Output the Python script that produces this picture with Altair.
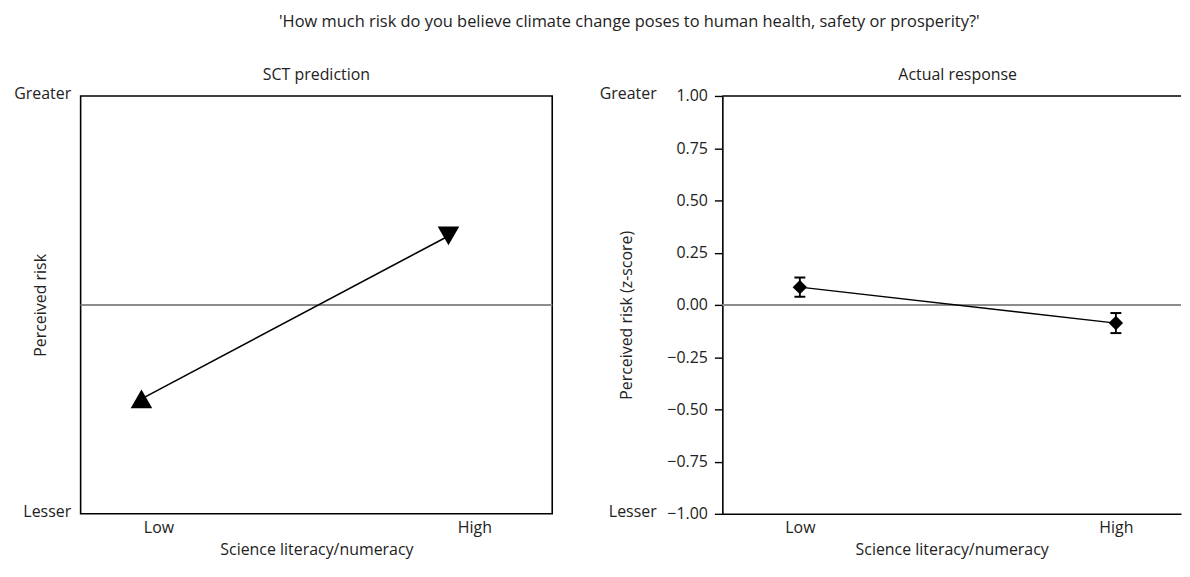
import altair as alt
import pandas as pd

FONT = "Open Sans"
TXT = "#222222"

# ---------------- data ----------------
levels = ["Low", "High"]
# SCT prediction (schematic)
sct_x = [0.129, 0.78]
sct_y = [-0.45, 0.33]
sct_shape = ["triangle-up", "triangle-down"]
# Actual response (z-score) with error bars
act_x = [0.169, 0.858]
act_y = [0.085, -0.087]
act_err = [0.046, 0.048]
# axis tick labels
left_ticks = [0.165, 0.835]
right_ticks = [0.169, 0.858]
z_ticks = [1.0, 0.75, 0.5, 0.25, 0.0, -0.25, -0.5, -0.75, -1.0]
end_ticks = [1.0, -1.0]
end_labels = ["Greater", "Lesser"]

sct = pd.DataFrame({"level": levels, "x": sct_x, "y": sct_y, "shape": sct_shape})
act = pd.DataFrame({
    "level": levels,
    "x": act_x,
    "y": act_y,
    "lo": [v - e for v, e in zip(act_y, act_err)],
    "hi": [v + e for v, e in zip(act_y, act_err)],
})
ref_df = pd.DataFrame({"y": [0.0]})
top_df = pd.DataFrame({"y": [1.0]})
end_df = pd.DataFrame({"y": end_ticks, "label": end_labels})

W1, W2, H = 474, 461, 420

xs = alt.Scale(domain=[0, 1], nice=False, zero=False)
ys = alt.Scale(domain=[-1, 1], nice=False, zero=False)

end_expr = "datum.value > 0 ? '%s' : '%s'" % (end_labels[0], end_labels[1])
lvl_expr = "datum.value < 0.5 ? '%s' : '%s'" % (levels[0], levels[1])

lab = dict(labelFont=FONT, labelFontSize=16, labelColor=TXT,
           titleFont=FONT, titleFontSize=16, titleColor=TXT, titleFontWeight="normal")

# ---------------- left panel ----------------
lx_axis = alt.Axis(values=left_ticks, labelExpr=lvl_expr, domain=False, ticks=False,
                   grid=False, title="Science literacy/numeracy", labelPadding=6,
                   titlePadding=6, labelFlush=False, **lab)
ly_axis = alt.Axis(values=end_ticks, labelExpr=end_expr, domain=False, ticks=False,
                   grid=False, title="Perceived risk", labelPadding=10, labelOffset=-2,
                   titleX=-40, titleY=H / 2, titleAngle=270, titleBaseline="middle",
                   titleAlign="center", labelFlush=False, **lab)

left_zero = alt.Chart(ref_df).mark_rule(color="#8c8c8c", strokeWidth=2).encode(
    y=alt.Y("y:Q", scale=ys, axis=ly_axis))
left_line = alt.Chart(sct).mark_line(color="black", strokeWidth=1.6).encode(
    x=alt.X("x:Q", scale=xs, axis=lx_axis),
    y=alt.Y("y:Q", scale=ys))
left_pts = alt.Chart(sct).mark_point(filled=True, color="black", opacity=1, size=470).encode(
    x=alt.X("x:Q", scale=xs),
    y=alt.Y("y:Q", scale=ys),
    shape=alt.Shape("shape:N", scale=None))

left = alt.layer(left_zero, left_line, left_pts).properties(
    width=W1, height=H,
    title=alt.TitleParams("SCT prediction", font=FONT, fontSize=16, color=TXT,
                          fontWeight="normal", offset=3),
    view=alt.ViewBackground(stroke="black", strokeWidth=1.6),
)

# ---------------- right panel ----------------
rx_axis = alt.Axis(values=right_ticks, labelExpr=lvl_expr, domain=True, domainColor="black",
                   domainWidth=1.6, ticks=False, grid=False,
                   title="Science literacy/numeracy", labelPadding=6, titlePadding=6,
                   labelFlush=False, **lab)
ry_axis = alt.Axis(values=z_ticks, format=".2f", domain=True, domainColor="black",
                   domainWidth=1.6, ticks=True, tickColor="black", tickWidth=1.4,
                   tickSize=8, grid=False, labelPadding=7, labelFlush=False,
                   title="Perceived risk (z-score)", titleX=-96, titleY=H / 2 + 10,
                   titleAngle=270, titleBaseline="middle", titleAlign="center", **lab)

r_top = alt.Chart(top_df).mark_rule(color="black", strokeWidth=1.6).encode(
    y=alt.Y("y:Q", scale=ys, axis=ry_axis))
r_zero = alt.Chart(ref_df).mark_rule(color="#8c8c8c", strokeWidth=2).encode(
    y=alt.Y("y:Q", scale=ys))
r_ends = alt.Chart(end_df).mark_text(font=FONT, fontSize=16, color=TXT, align="right",
                                     baseline="middle", dy=-2).encode(
    y=alt.Y("y:Q", scale=ys), x=alt.value(-66), text="label:N")
r_line = alt.Chart(act).mark_line(color="black", strokeWidth=1.4).encode(
    x=alt.X("x:Q", scale=xs, axis=rx_axis),
    y=alt.Y("y:Q", scale=ys))
r_err = alt.Chart(act).mark_rule(color="black", strokeWidth=1.8).encode(
    x=alt.X("x:Q", scale=xs), y=alt.Y("lo:Q", scale=ys), y2="hi:Q")
r_cap_lo = alt.Chart(act).mark_tick(color="black", orient="horizontal", size=11,
                                    thickness=2, opacity=1).encode(
    x=alt.X("x:Q", scale=xs), y=alt.Y("lo:Q", scale=ys))
r_cap_hi = alt.Chart(act).mark_tick(color="black", orient="horizontal", size=11,
                                    thickness=2, opacity=1).encode(
    x=alt.X("x:Q", scale=xs), y=alt.Y("hi:Q", scale=ys))
r_pts = alt.Chart(act).mark_point(shape="diamond", filled=True, color="black",
                                  opacity=1, size=210).encode(
    x=alt.X("x:Q", scale=xs), y=alt.Y("y:Q", scale=ys))

right = alt.layer(r_top, r_zero, r_ends, r_line, r_err, r_cap_lo, r_cap_hi, r_pts).properties(
    width=W2, height=H,
    title=alt.TitleParams("Actual response", font=FONT, fontSize=16, color=TXT,
                          fontWeight="normal", offset=3, dx=6),
    view=alt.ViewBackground(stroke=None),
)

chart = alt.hconcat(left, right, spacing=45).properties(
    title=alt.TitleParams(
        "'How much risk do you believe climate change poses to human health, safety or prosperity?'",
        font=FONT, fontSize=16.5, color=TXT, fontWeight="normal", anchor="middle",
        offset=36, dx=32),
    padding={"left": 4, "top": 4, "right": 0, "bottom": 0},
).configure_view(strokeWidth=0).configure(background="white")

chart.save("out.html", embed_options={"renderer": "svg", "actions": False})
